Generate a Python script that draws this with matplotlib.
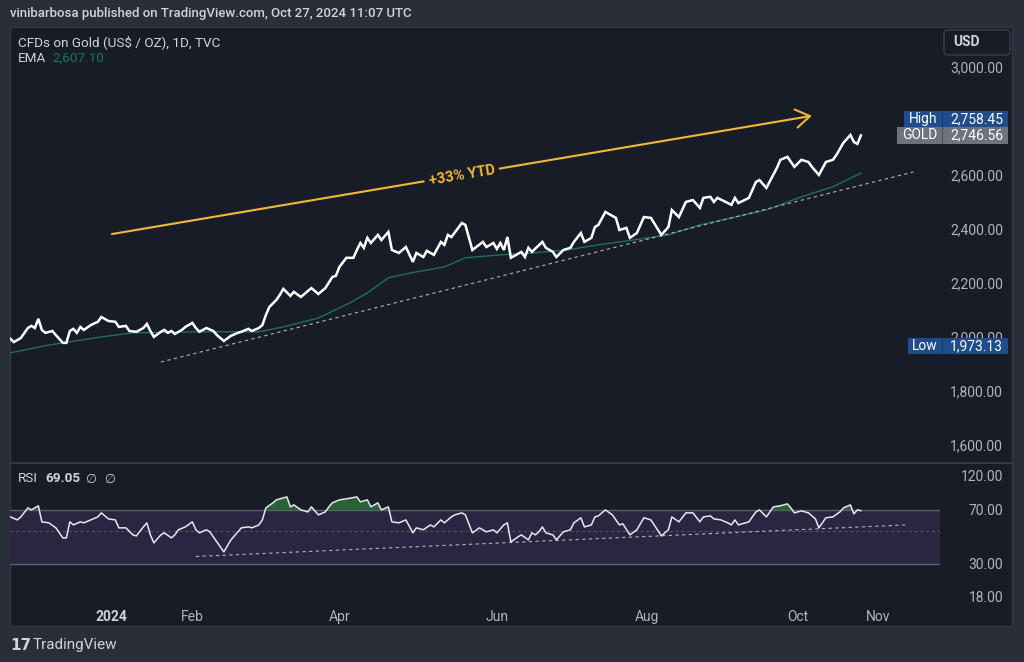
import numpy as np
import matplotlib
matplotlib.use("Agg")
import matplotlib.pyplot as plt
from matplotlib.patches import Rectangle, FancyBboxPatch
from matplotlib.lines import Line2D
from matplotlib.transforms import IdentityTransform
from matplotlib.ticker import NullLocator

plt.rcParams['font.family'] = ['Roboto', 'DejaVu Sans']

# --- data --------------------------------------------------------------------
close_dates = [
    '2023-11-21', '2023-11-22', '2023-11-24', '2023-11-28', '2023-11-29', '2023-11-30',
    '2023-12-01', '2023-12-04', '2023-12-05', '2023-12-07', '2023-12-08', '2023-12-12',
    '2023-12-13', '2023-12-14', '2023-12-15', '2023-12-18', '2023-12-19', '2023-12-20',
    '2023-12-22', '2023-12-26', '2023-12-27', '2023-12-29', '2024-01-02', '2024-01-03',
    '2024-01-05', '2024-01-08', '2024-01-10', '2024-01-12', '2024-01-15', '2024-01-16',
    '2024-01-17', '2024-01-19', '2024-01-22', '2024-01-23', '2024-01-24', '2024-01-25',
    '2024-01-29', '2024-01-30', '2024-02-01', '2024-02-02', '2024-02-05', '2024-02-07',
    '2024-02-09', '2024-02-12', '2024-02-14', '2024-02-16', '2024-02-20', '2024-02-21',
    '2024-02-23', '2024-02-26', '2024-02-28', '2024-02-29', '2024-03-01', '2024-03-04',
    '2024-03-06', '2024-03-07', '2024-03-08', '2024-03-12', '2024-03-13', '2024-03-15',
    '2024-03-20', '2024-03-22', '2024-03-26', '2024-03-28', '2024-03-29', '2024-04-01',
    '2024-04-03', '2024-04-05', '2024-04-08', '2024-04-09', '2024-04-10', '2024-04-11',
    '2024-04-12', '2024-04-16', '2024-04-17', '2024-04-19', '2024-04-22', '2024-04-24',
    '2024-04-26', '2024-04-30', '2024-05-01', '2024-05-03', '2024-05-06', '2024-05-08',
    '2024-05-10', '2024-05-13', '2024-05-14', '2024-05-15', '2024-05-20', '2024-05-21',
    '2024-05-23', '2024-05-28', '2024-05-29', '2024-05-31', '2024-06-03', '2024-06-04',
    '2024-06-05', '2024-06-06', '2024-06-07', '2024-06-12', '2024-06-13', '2024-06-14',
    '2024-06-17', '2024-06-20', '2024-06-21', '2024-06-25', '2024-06-26', '2024-06-28',
    '2024-07-02', '2024-07-03', '2024-07-05', '2024-07-08', '2024-07-10', '2024-07-11',
    '2024-07-12', '2024-07-16', '2024-07-19', '2024-07-22', '2024-07-24', '2024-07-25',
    '2024-07-29', '2024-07-31', '2024-08-02', '2024-08-07', '2024-08-09', '2024-08-12',
    '2024-08-14', '2024-08-16', '2024-08-20', '2024-08-22', '2024-08-23', '2024-08-27',
    '2024-08-28', '2024-08-29', '2024-09-03', '2024-09-04', '2024-09-05', '2024-09-06',
    '2024-09-11', '2024-09-13', '2024-09-16', '2024-09-18', '2024-09-23', '2024-09-24',
    '2024-09-26', '2024-09-30', '2024-10-02', '2024-10-04', '2024-10-07', '2024-10-09',
    '2024-10-11', '2024-10-15', '2024-10-16', '2024-10-18', '2024-10-22', '2024-10-23',
    '2024-10-24', '2024-10-25']
close = [
    1993, 1981, 1996, 2033, 2041, 2033, 2067, 2026, 2015, 2022, 2007, 1978,
    1978, 2022, 2030, 2015, 2037, 2026, 2044, 2056, 2074, 2059, 2056, 2037,
    2041, 2022, 2019, 2033, 2048, 2022, 2000, 2019, 2026, 2015, 2022, 2011,
    2026, 2037, 2052, 2033, 2019, 2033, 2022, 2007, 1985, 2004, 2015, 2019,
    2030, 2022, 2033, 2044, 2081, 2111, 2137, 2156, 2178, 2152, 2167, 2148,
    2181, 2159, 2181, 2222, 2226, 2259, 2293, 2293, 2322, 2348, 2330, 2367,
    2348, 2378, 2359, 2389, 2322, 2311, 2333, 2278, 2311, 2296, 2319, 2304,
    2352, 2341, 2378, 2370, 2422, 2415, 2322, 2352, 2333, 2348, 2326, 2348,
    2322, 2370, 2293, 2315, 2296, 2330, 2315, 2352, 2330, 2315, 2296, 2322,
    2330, 2352, 2385, 2352, 2367, 2407, 2415, 2463, 2441, 2396, 2404, 2367,
    2385, 2444, 2441, 2378, 2407, 2470, 2444, 2500, 2507, 2478, 2515, 2519,
    2500, 2515, 2496, 2489, 2515, 2496, 2515, 2574, 2581, 2552, 2626, 2656,
    2667, 2630, 2656, 2648, 2630, 2600, 2648, 2656, 2674, 2719, 2748, 2722,
    2715, 2746.56]

ema_dates = ['2023-11-21', '2023-12-06', '2023-12-27', '2024-01-09', '2024-02-05',
             '2024-02-28', '2024-03-08', '2024-03-22', '2024-04-04', '2024-04-11',
             '2024-04-19', '2024-05-01', '2024-05-13', '2024-05-21', '2024-06-04',
             '2024-06-17', '2024-07-01', '2024-07-12', '2024-07-26', '2024-08-09',
             '2024-08-22', '2024-09-04', '2024-09-18', '2024-10-02', '2024-10-15',
             '2024-10-25']
ema = [1941, 1970, 2000, 2015, 2019, 2019, 2037, 2070, 2126, 2163, 2219, 2241, 2259,
       2293, 2304, 2311, 2322, 2341, 2359, 2378, 2415, 2441, 2470, 2519, 2556, 2607.10]

rsi_dates = [
    '2023-11-21', '2023-11-23', '2023-11-24', '2023-11-28', '2023-11-29', '2023-12-01',
    '2023-12-04', '2023-12-06', '2023-12-08', '2023-12-12', '2023-12-13', '2023-12-14',
    '2023-12-15', '2023-12-19', '2023-12-20', '2023-12-22', '2023-12-26', '2023-12-27',
    '2023-12-29', '2024-01-02', '2024-01-03', '2024-01-05', '2024-01-09', '2024-01-10',
    '2024-01-12', '2024-01-15', '2024-01-16', '2024-01-17', '2024-01-19', '2024-01-22',
    '2024-01-24', '2024-01-25', '2024-01-26', '2024-01-30', '2024-02-01', '2024-02-02',
    '2024-02-05', '2024-02-07', '2024-02-08', '2024-02-09', '2024-02-14', '2024-02-16',
    '2024-02-20', '2024-02-21', '2024-02-23', '2024-02-26', '2024-02-28', '2024-02-29',
    '2024-03-01', '2024-03-05', '2024-03-06', '2024-03-11', '2024-03-12', '2024-03-13',
    '2024-03-15', '2024-03-19', '2024-03-20', '2024-03-22', '2024-03-26', '2024-03-27',
    '2024-03-28', '2024-04-01', '2024-04-03', '2024-04-08', '2024-04-09', '2024-04-11',
    '2024-04-12', '2024-04-16', '2024-04-17', '2024-04-19', '2024-04-22', '2024-04-24',
    '2024-04-26', '2024-04-30', '2024-05-01', '2024-05-03', '2024-05-07', '2024-05-08',
    '2024-05-10', '2024-05-13', '2024-05-15', '2024-05-16', '2024-05-20', '2024-05-21',
    '2024-05-23', '2024-05-27', '2024-05-29', '2024-05-31', '2024-06-03', '2024-06-05',
    '2024-06-06', '2024-06-07', '2024-06-11', '2024-06-12', '2024-06-14', '2024-06-17',
    '2024-06-18', '2024-06-19', '2024-06-20', '2024-06-21', '2024-06-25', '2024-06-26',
    '2024-06-28', '2024-07-02', '2024-07-03', '2024-07-05', '2024-07-08', '2024-07-10',
    '2024-07-11', '2024-07-12', '2024-07-16', '2024-07-18', '2024-07-22', '2024-07-23',
    '2024-07-25', '2024-07-29', '2024-07-31', '2024-08-02', '2024-08-07', '2024-08-09',
    '2024-08-12', '2024-08-14', '2024-08-16', '2024-08-20', '2024-08-22', '2024-08-23',
    '2024-08-27', '2024-08-28', '2024-08-30', '2024-09-03', '2024-09-04', '2024-09-05',
    '2024-09-06', '2024-09-11', '2024-09-13', '2024-09-16', '2024-09-18', '2024-09-20',
    '2024-09-24', '2024-09-26', '2024-09-27', '2024-09-30', '2024-10-02', '2024-10-04',
    '2024-10-08', '2024-10-09', '2024-10-11', '2024-10-15', '2024-10-17', '2024-10-18',
    '2024-10-22', '2024-10-23', '2024-10-24', '2024-10-25']
rsi = [
    62.7, 59.8, 62.7, 72.2, 70.0, 74.6, 58.0, 57.1, 52.8, 45.1, 45.1, 58.0,
    55.3, 58.0, 57.1, 59.8, 62.7, 66.8, 60.8, 59.8, 52.8, 52.8, 47.3, 46.5,
    53.6, 57.1, 47.3, 41.7, 47.3, 48.8, 45.1, 47.3, 51.2, 53.6, 58.0, 51.2,
    48.8, 51.2, 49.6, 45.8, 36.2, 43.7, 49.6, 52.8, 53.6, 52.8, 55.3, 59.8,
    72.2, 78.1, 81.9, 85.8, 73.4, 75.7, 70.0, 67.8, 73.4, 64.7, 67.8, 73.4,
    78.1, 81.9, 83.2, 85.8, 79.4, 81.9, 73.4, 78.1, 70.0, 73.4, 58.0, 57.1,
    59.8, 48.8, 52.8, 51.2, 55.3, 53.6, 59.8, 57.1, 62.7, 64.7, 66.8, 64.7,
    48.8, 52.8, 49.6, 51.2, 48.8, 55.3, 57.1, 42.3, 45.8, 47.3, 43.7, 48.8,
    47.3, 49.6, 53.6, 48.8, 47.3, 43.7, 49.6, 51.2, 57.1, 61.8, 53.6, 55.3,
    62.7, 63.7, 70.0, 64.7, 55.3, 56.2, 47.3, 51.2, 61.8, 59.8, 46.5, 51.2,
    62.7, 58.0, 66.8, 66.8, 58.0, 62.7, 63.7, 60.8, 59.8, 57.1, 55.3, 59.8,
    55.3, 58.0, 67.8, 70.0, 62.7, 73.4, 74.6, 76.9, 72.2, 66.8, 68.9, 66.8,
    60.8, 52.8, 61.8, 62.7, 67.8, 72.2, 75.7, 65.7, 70.0, 69.05]

# drawings on the chart
price_trend_dates = ['2024-01-19', '2024-11-15']
price_trend = [1907, 2611]
rsi_trend_dates = ['2024-02-02', '2024-11-13']
rsi_trend = [33.7, 55.3]
arrow_dates = ['2024-01-01', '2024-10-07']
arrow_prices = [2381, 2819]

price_ticks = [1600, 1800, 2000, 2200, 2400, 2600, 3000]
rsi_ticks = [18, 30, 70, 120]
month_dates = ['2024-01-01', '2024-02-01', '2024-04-01', '2024-06-03',
               '2024-08-01', '2024-10-01', '2024-11-01']
month_labels = ['2024', 'Feb', 'Apr', 'Jun', 'Aug', 'Oct', 'Nov']

high, last, low, ema_last, rsi_last = 2758.45, 2746.56, 1973.13, 2607.10, 69.05


def bars(d):
    # TradingView spaces the bars by session, not by calendar day
    return np.busday_count('2024-01-01', np.array(d, dtype='datetime64[D]'))


# --- figure ------------------------------------------------------------------
W, H = 1024, 662
BG = '#2a2e39'
PANEL = '#181c27'
TXT = '#d1d4dc'
AXT = '#b2b5be'
P = IdentityTransform()


def Y(py):
    return H - py


fig = plt.figure(figsize=(W / 100, H / 100), dpi=100, facecolor=BG)
fig.add_artist(Rectangle((10, Y(626)), 1002, 599, transform=P, zorder=-5,
                         facecolor=PANEL, edgecolor='#343844', lw=1))

ax = fig.add_axes([10 / W, 1 - 463 / H, 930 / W, 436 / H])
rx = fig.add_axes([10 / W, 1 - 602 / H, 930 / W, 139 / H], sharex=ax)
for a in (ax, rx):
    a.patch.set_alpha(0)
    for s in a.spines.values():
        s.set_visible(False)
fig.add_artist(Line2D([10, 1012], [Y(463), Y(463)], transform=P, color='#3a3e4a',
                      lw=1.2, zorder=-4))

# price pane
ax.plot(bars(ema_dates), ema, color='#1f6f62', lw=1.0)
ax.plot(bars(price_trend_dates), price_trend, color='#b2b5be', lw=0.8, dashes=(3, 3))
ax.plot(bars(close_dates), close, color='white', lw=1.8, solid_joinstyle='miter')
ax.set_xlim(-29.1, 236.6)
ax.set_ylim(1533, 3148)
ax.yaxis.tick_right()
ax.set_yticks(price_ticks)
ax.set_yticklabels([f'{v:,.2f}' for v in price_ticks])
ax.tick_params(axis='y', length=0, pad=45.4, labelcolor=AXT, labelsize=10)
ax.tick_params(axis='x', length=0, labelbottom=False)
for t in ax.get_yticklabels():
    t.set_ha('right')

yellow = '#f0b93a'
ax.annotate('', xy=(bars(arrow_dates)[1], arrow_prices[1]),
            xytext=(bars(arrow_dates)[0], arrow_prices[0]),
            arrowprops=dict(arrowstyle='->,head_length=0.85,head_width=0.55', color=yellow,
                            lw=1.5, shrinkA=0, shrinkB=0, mutation_scale=12))
p0 = ax.transData.transform((bars(arrow_dates)[0], arrow_prices[0]))
p1 = ax.transData.transform((bars(arrow_dates)[1], arrow_prices[1]))
ang = np.degrees(np.arctan2(p1[1] - p0[1], p1[0] - p0[0]))
mid = (p0 + p1) / 2
fig.text(mid[0], mid[1] - 1, '+33% YTD', transform=P, rotation=ang, rotation_mode='anchor',
         ha='center', va='center', color=yellow, fontsize=10.5, fontweight='bold',
         bbox=dict(boxstyle='square,pad=0.3', fc=PANEL, ec='none'))

# rsi pane
rsi_x = bars(rsi_dates)
rx.axhspan(30, 70, color='#282641', lw=0)
rx.axhline(70, color='#5d606b', lw=1.0)
rx.axhline(30, color='#5d606b', lw=1.0)
rx.axhline(50, color='#787b86', lw=0.7, dashes=(3, 3), alpha=0.6)
rsi_arr = np.array(rsi)
rx.fill_between(rsi_x, rsi_arr, 70, where=rsi_arr > 70, interpolate=True,
                color='#2f6e3b', alpha=0.85, lw=0)
rx.plot(bars(rsi_trend_dates), rsi_trend, color='#b2b5be', lw=0.8, dashes=(3, 3))
rx.plot(rsi_x, rsi, color='#e6e8ee', lw=1.1)
rx.set_yscale('log')
rx.set_ylim(16.5, 146)
rx.yaxis.tick_right()
rx.set_yticks(rsi_ticks)
rx.set_yticklabels([f'{v:.2f}' for v in rsi_ticks])
rx.yaxis.set_minor_locator(NullLocator())
rx.tick_params(axis='y', length=0, pad=45.4, labelcolor=AXT, labelsize=10)
for t in rx.get_yticklabels():
    t.set_ha('right')
rx.set_xticks(bars(month_dates))
rx.set_xticklabels(month_labels)
rx.tick_params(axis='x', length=0, pad=5.5, labelcolor=AXT, labelsize=10)
rx.get_xticklabels()[0].set_fontweight('bold')
rx.get_xticklabels()[0].set_color(TXT)


# price tags on the scale
def tag(label, value, py, color, x0, xm):
    h = 16.5
    fig.add_artist(Rectangle((x0, Y(py + h / 2)), 1008 - x0, h, transform=P,
                             facecolor=color, lw=0))
    fig.add_artist(Line2D([xm, xm], [Y(py - h / 2), Y(py + h / 2)], transform=P,
                          color=PANEL, lw=0.6, alpha=0.5))
    fig.text((x0 + xm) / 2, Y(py), label, transform=P, ha='center', va='center',
             color='white', fontsize=10)
    fig.text(1003, Y(py), f'{value:,.2f}', transform=P, ha='right', va='center',
             color='white', fontsize=10)


def pix(v):
    return H - ax.transData.transform((0, v))[1]


gy = pix(last)
tag('GOLD', last, gy, '#6f727d', 897, 942)
tag('High', high, gy - 16.5, '#1e4c8c', 904, 942)
tag('Low', low, pix(low) + 2, '#1e4c8c', 908, 942)

# currency box
fig.add_artist(FancyBboxPatch((944, Y(55)), 66, 25, transform=P,
                              boxstyle='round,pad=0,rounding_size=4',
                              facecolor=PANEL, edgecolor='#3a3e4a', lw=1))
fig.text(967, Y(42.5), 'USD', transform=P, ha='center', va='center', color=TXT,
         fontsize=10, fontweight='bold')

# texts
fig.text(10, Y(14), 'vinibarbosa published on TradingView.com, Oct 27, 2024 11:07 UTC',
         transform=P, va='center', color=TXT, fontsize=9.5, fontweight='medium')
fig.text(18, Y(42), r'CFDs on Gold (US\$ / OZ), 1D, TVC', transform=P, va='center',
         color=TXT, fontsize=9.7)
fig.text(18, Y(58.5), 'EMA', transform=P, va='center', color=TXT, fontsize=9.7)
fig.text(52, Y(58.5), f'{ema_last:,.2f}', transform=P, va='center', color='#1f6f62',
         fontsize=9.7)
fig.text(18, Y(479), 'RSI', transform=P, va='center', color=TXT, fontsize=9.7)
fig.text(45, Y(479), f'{rsi_last:.2f}', transform=P, va='center', color=TXT,
         fontsize=9.7, fontweight='bold')
fig.text(86, Y(479.5), '\u2205  \u2205', transform=P, va='center', color=TXT,
         fontsize=9, family=['DejaVu Sans'], style='italic')

# footer
fig.text(10, Y(645), '17', transform=P, va='center', color=TXT, fontsize=11,
         fontweight='black', family=['DejaVu Sans'])
fig.text(33, Y(645), 'TradingView', transform=P, va='center', color=TXT, fontsize=11)

fig.savefig('out.png', dpi=100, facecolor=BG)
